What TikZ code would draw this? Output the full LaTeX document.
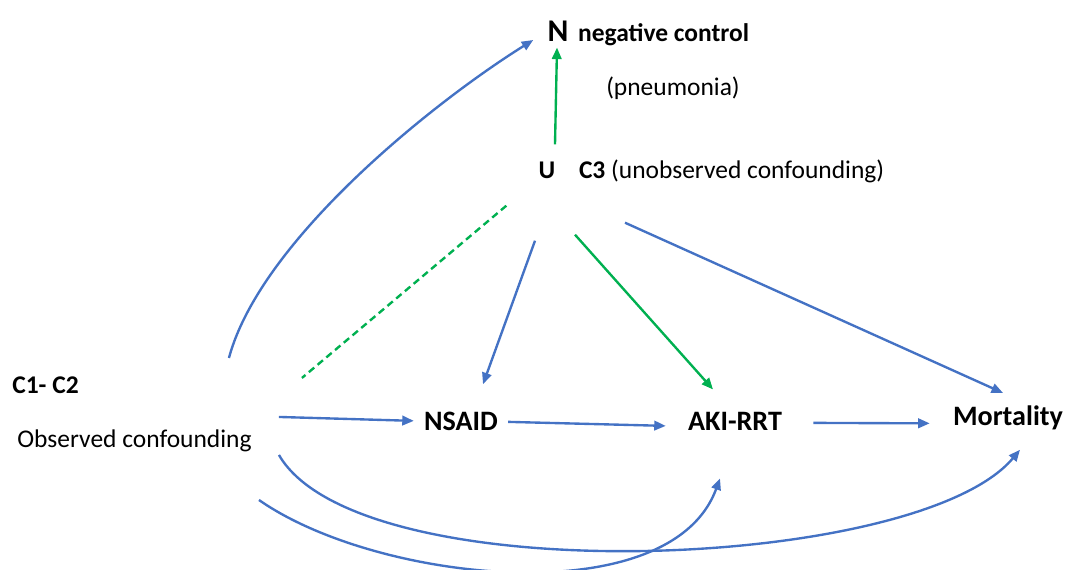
\documentclass[tikz,border=0pt]{standalone}
\usepackage{fontspec}
\setmainfont{Carlito}
\usetikzlibrary{positioning,arrows.meta}

\definecolor{dagblue}{HTML}{4472C4}
\definecolor{daggreen}{HTML}{00B050}

\begin{document}
\begin{tikzpicture}[x=0.02cm, y=0.02cm,
  textnode/.style={inner sep=0pt, font=\fontsize{14.5}{17}\selectfont},
  boldtext/.style={inner sep=0pt, font=\fontsize{14.5}{17}\selectfont\bfseries},
  varnode/.style={inner sep=0pt, font=\fontsize{16}{19}\selectfont\bfseries},
  bluearrow/.style={draw=dagblue, line width=1.35pt, -{Triangle[length=2.3mm,width=1.9mm]}},
  greenarrow/.style={draw=daggreen, line width=1.35pt, -{Triangle[length=2.3mm,width=1.9mm]}},
  greendash/.style={draw=daggreen, line width=1.35pt, dash pattern=on 4pt off 2.5pt}]

\useasboundingbox (0,0) rectangle (1065,-570);

%Nodes
\node[boldtext, font=\fontsize{18}{21}\selectfont\bfseries] (N) at (558,-31) {N};
\node[boldtext] (negctrl) [base right=0.18cm of N] {negative control};
\node[textnode] (pneumonia) at (673,-88) {(pneumonia)};
\node[boldtext] (U) at (547,-170) {U};
\node[textnode] (unobs) [base right=0.46cm of U] {\textbf{C3} (unobserved confounding)};
\node[boldtext, anchor=west] (c12) at (12,-385) {C1- C2};
\node[textnode, anchor=base west] (obs) at (17,-448) {Observed confounding};
\node[varnode, anchor=base] (nsaid) at (461,-431) {NSAID};
\node[varnode, anchor=base] (aki) at (735,-431) {AKI-RRT};
\node[varnode, anchor=base] (mort) at (1008,-426) {Mortality};

%lines
\draw[bluearrow] ([shift={(-23,72)}]obs.north east) to[out=75, in=212, looseness=0.7] ([shift={(-14,-9)}]N.west);
\draw[greenarrow] ([shift={(8,17)}]U.north) -- ([shift={(-1,-6)}]N.south);
\draw[greendash] ([shift={(-32,-27)}]U.south west) -- ([shift={(50,52)}]obs.north east);

\draw[bluearrow] ([shift={(-12,-62)}]U.south) -- ([shift={(22,28)}]nsaid.north);
\draw[greenarrow] ([shift={(28,-56)}]U.south) -- ([shift={(-22,23)}]aki.north);
\draw[bluearrow] ([shift={(78,-44)}]U.south) -- ([shift={(-5,13)}]mort.north);

\draw[bluearrow] ([shift={(27,13)}]obs.north east) -- ([shift={(-10,1)}]nsaid.west);
\draw[bluearrow] ([shift={(10,0)}]nsaid.east) -- ([shift={(-22,-4)}]aki.west);
\draw[bluearrow] ([shift={(31,-1)}]aki.east) -- ([shift={(-23,-5)}]mort.west);

\draw[bluearrow] ([shift={(27,-25)}]obs.north east) to[out=-60, in=230, looseness=0.55] ([shift={(12,-19)}]mort.south);
\draw[bluearrow] ([shift={(7,-70)}]obs.north east) to[out=-35, in=250, looseness=0.8] ([shift={(-15,-47)}]aki.south);

\end{tikzpicture}
\end{document}
